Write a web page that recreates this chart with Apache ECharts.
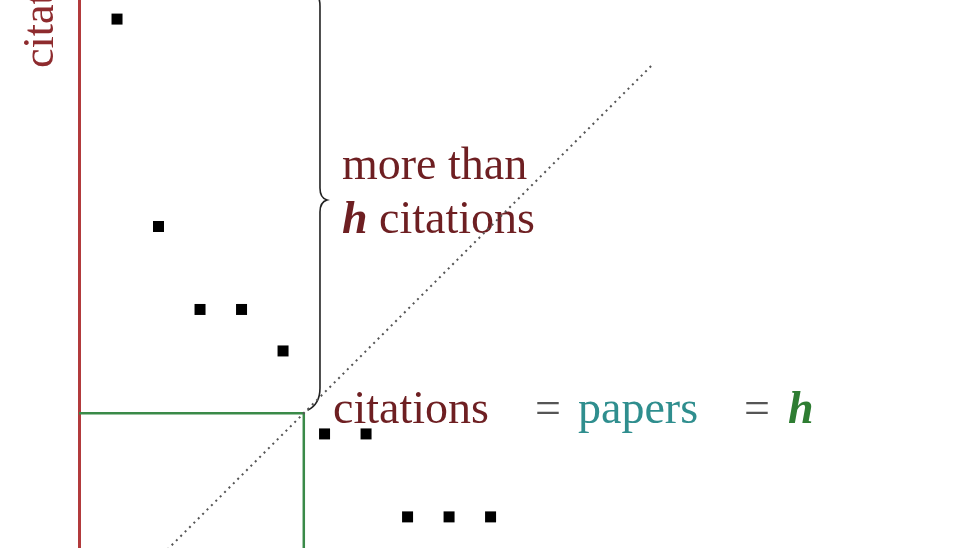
<!DOCTYPE html>
<html>
	<head>
		<meta charset="utf-8">
		<title>h-index</title>
		<script src="https://cdn.jsdelivr.net/npm/echarts@6/dist/echarts.min.js"></script>
	</head>
	<body style="margin:0">
		<div id="box" style="width: 960px;height: 548px;"></div>
		<script>
			// papers sorted by citations
			var papers = [1, 2, 3, 4, 5, 6, 7, 8, 9, 10]
			var citations = [15, 10, 8, 8, 7, 5, 5, 3, 3, 3]
			var hEdge = 5.5   // edge of the h square
			var diagonal = [[2, 2], [13.9, 13.9]]
			// brace: x column, tip x, top, middle, bottom (data units)
			var brace = { x: 5.89, tip: 6.06, top: 15.6, mid: 10.64, bottom: 5.62 }

			var xMin = 0.084, xMax = 21.31
			var yMin = 2.25, yMax = 15.46

			var serif = 'Liberation Serif'
			var maroon = '#6e1f22'
			var green = '#3a8a48'

			var mCharts = echarts.init(document.querySelector('#box'))
			var option = {
				backgroundColor: '#fff',
				animation: false,
				grid: { left: 79, right: 0, top: 0, bottom: 0 },
				xAxis: { type: 'value', min: xMin, max: xMax, show: false },
				yAxis: {
					type: 'value', min: yMin, max: yMax,
					axisLine: { show: true, lineStyle: { color: '#b23a3c', width: 3 } },
					axisTick: { show: false },
					axisLabel: { show: false },
					splitLine: { show: false }
				},
				series: [
					{
						type: 'line',
						data: [[xMin, hEdge], [hEdge, hEdge], [hEdge, yMin - 1]],
						symbol: 'none',
						lineStyle: { color: green, width: 2.5 }
					},
					{
						type: 'line',
						data: diagonal,
						symbol: 'none',
						clip: false,
						lineStyle: { color: '#555', width: 2, type: [2, 4.2] }
					},
					{
						type: 'custom',
						clip: false,
						data: [0],
						renderItem: function (params, api) {
							var t = api.coord([brace.x - 0.17, brace.top])
							var c = api.coord([brace.x, brace.top])
							var m = api.coord([brace.tip, brace.mid])
							var b = api.coord([brace.x, brace.bottom])
							var bl = api.coord([brace.x - 0.3, brace.bottom - 0.05])
							var x = c[0], r = 12
							var d = 'M' + t[0] + ' ' + t[1] +
								' Q' + x + ' ' + t[1] + ' ' + x + ' ' + (t[1] + r) +
								' L' + x + ' ' + (m[1] - r) +
								' Q' + x + ' ' + (m[1] - 2) + ' ' + m[0] + ' ' + m[1] +
								' Q' + x + ' ' + (m[1] + 2) + ' ' + x + ' ' + (m[1] + r) +
								' L' + x + ' ' + (b[1] - r - 8) +
								' Q' + x + ' ' + (b[1] - 4) + ' ' + bl[0] + ' ' + bl[1]
							return {
								type: 'path',
								shape: { pathData: d },
								style: { stroke: '#222', lineWidth: 1.6, fill: null }
							}
						}
					},
					{
						type: 'scatter',
						data: papers.map(function (p, i) { return [p, citations[i]] }),
						symbol: 'rect',
						symbolSize: 11,
						itemStyle: { color: '#000', opacity: 1 }
					}
				],
				graphic: [
					{
						type: 'text', x: 41, y: 68, rotation: Math.PI / 2,
						style: { text: 'citations', font: '44px ' + serif, fill: '#8e2b2e', align: 'left', verticalAlign: 'middle' }
					},
					{
						type: 'text', x: 342, y: 167,
						style: { text: 'more than', font: '46px ' + serif, fill: maroon, verticalAlign: 'middle' }
					},
					{
						type: 'text', x: 342, y: 221,
						style: {
							text: '{h|h} citations', font: '46px ' + serif, fill: maroon, verticalAlign: 'middle',
							rich: { h: { fontFamily: serif, fontSize: 46, fontWeight: 'bold', fontStyle: 'italic', fill: maroon } }
						}
					},
					{
						type: 'text', x: 333, y: 411,
						style: { text: 'citations', font: '46px ' + serif, fill: maroon, verticalAlign: 'middle' }
					},
					{
						type: 'text', x: 535, y: 411,
						style: { text: '=', font: '46px ' + serif, fill: '#555', verticalAlign: 'middle' }
					},
					{
						type: 'text', x: 578, y: 411,
						style: { text: 'papers', font: '46px ' + serif, fill: '#2f8e8e', verticalAlign: 'middle' }
					},
					{
						type: 'text', x: 744, y: 411,
						style: { text: '=', font: '46px ' + serif, fill: '#555', verticalAlign: 'middle' }
					},
					{
						type: 'text', x: 788, y: 411,
						style: { text: 'h', font: 'italic bold 46px ' + serif, fill: '#2e7d32', verticalAlign: 'middle' }
					}
				]
			}
			mCharts.setOption(option)
		</script>
	</body>
</html>
